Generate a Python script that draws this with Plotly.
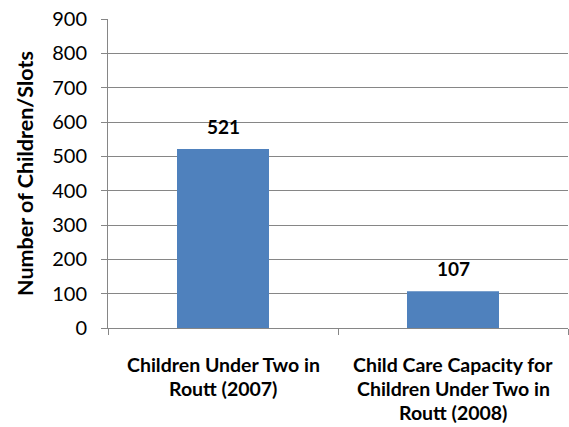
import plotly.graph_objects as go

categories = ["Children Under Two in<br>Routt (2007)",
              "Child Care Capacity for<br>Children Under Two in<br>Routt (2008)"]
values = [521, 107]
y_ticks = [0, 100, 200, 300, 400, 500, 600, 700, 800, 900]
y_title = "Number of Children/Slots"

FONT = "Lato"
BAR = "#4F81BD"
GRID = "#868686"

fig = go.Figure()
fig.add_trace(go.Bar(x=categories, y=values, marker=dict(color=BAR, line=dict(width=0)),
                     width=0.4, hoverinfo="skip"))

# data labels
for c, v in zip(categories, values):
    fig.add_annotation(x=c, y=v, text=f"<b>{v}</b>", showarrow=False, yshift=23,
                       font=dict(family=FONT, size=19, color="black"))

# category labels, line by line
for c in categories:
    for i, line in enumerate(c.split("<br>")):
        fig.add_annotation(x=c, y=0, yref="y", text=f"<b>{line}</b>", showarrow=False,
                           yshift=-(36 + 24 * i), font=dict(family=FONT, size=19.5, color="black"))

fig.update_layout(
    width=569, height=427,
    margin=dict(l=108, r=1, t=19, b=99),
    plot_bgcolor="white", paper_bgcolor="white",
    showlegend=False,
    font=dict(family=FONT, color="black"),
)
fig.update_xaxes(showticklabels=False, showline=True, linecolor=GRID, linewidth=1,
                 ticks="outside", tickson="boundaries", ticklen=6, tickcolor=GRID,
                 showgrid=False)
fig.update_yaxes(range=[0, 900], tickvals=y_ticks, showline=True, linecolor=GRID, linewidth=1,
                 ticks="outside", ticklen=6, tickcolor=GRID, gridcolor=GRID, gridwidth=1,
                 tickfont=dict(family=FONT, size=20, color="black"), ticklabelstandoff=10,
                 zeroline=False,
                 title=dict(text=f"<b>{y_title}</b>", font=dict(family=FONT, size=21.5, color="black"),
                            standoff=12))

fig.write_html("out.html")
